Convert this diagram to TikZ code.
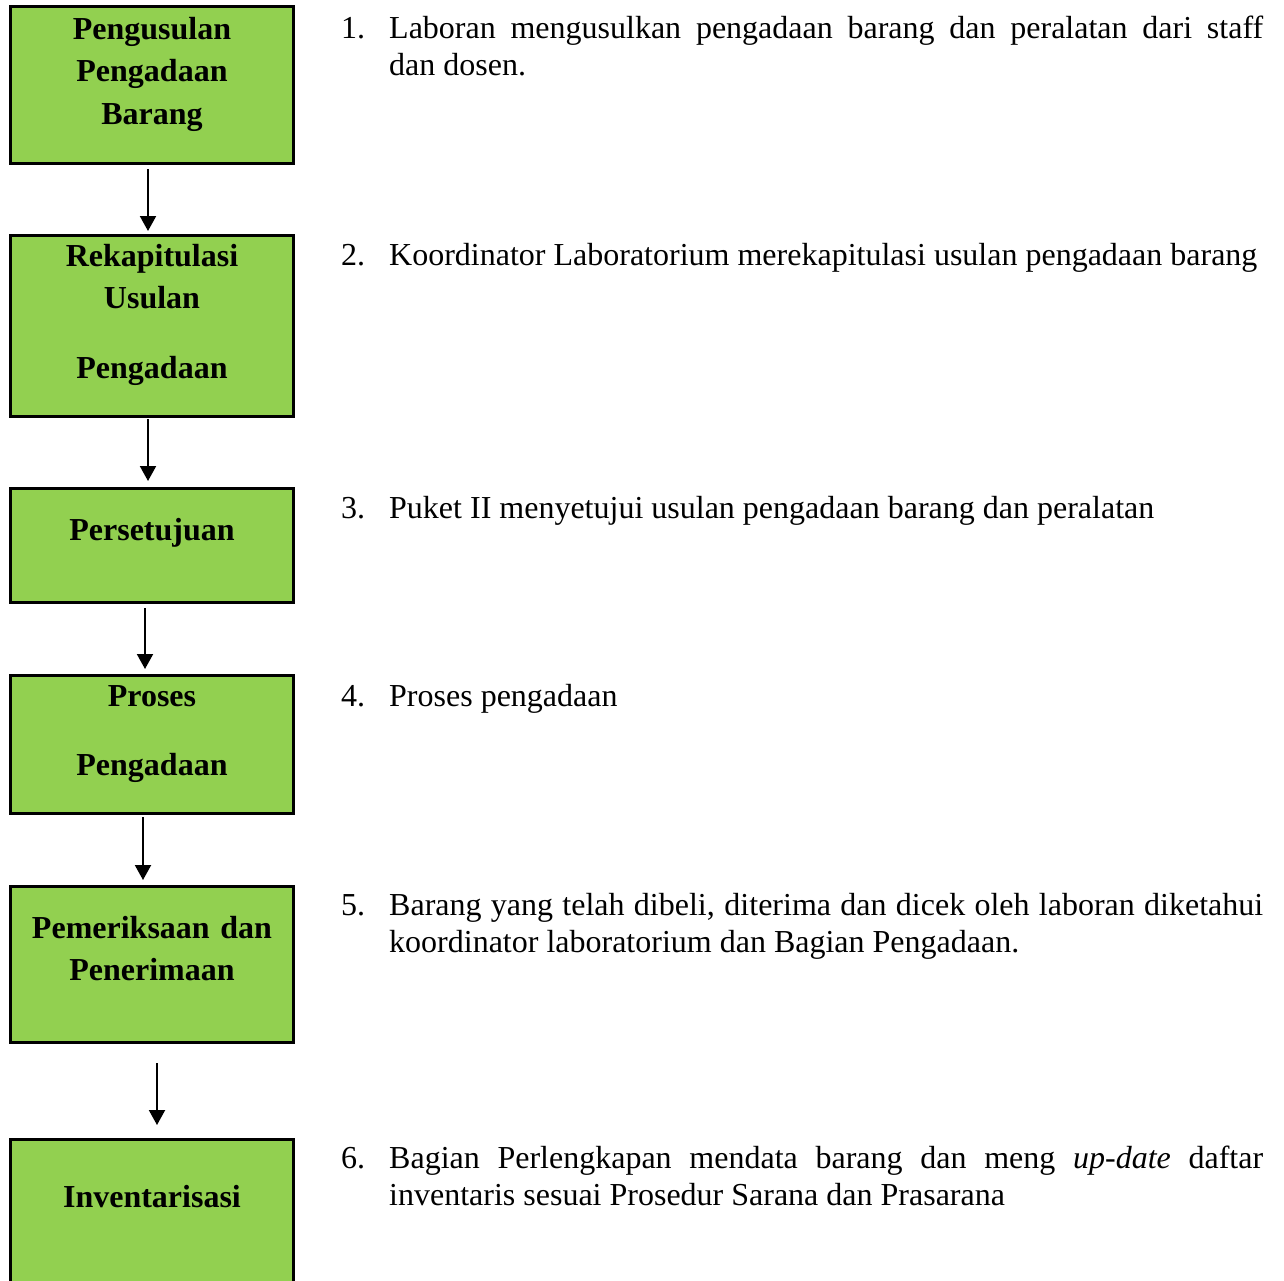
\documentclass[tikz,border=0pt]{standalone}
\usepackage{fontspec}
\setmainfont{Liberation Serif}
\usepackage{tikz}
\usetikzlibrary{arrows.meta}
\definecolor{boxgreen}{HTML}{92D050}
\hyphenpenalty=10000

\begin{document}
\begin{tikzpicture}[x=1pt,y=-1pt,
    stepbox/.style={draw,line width=3pt,fill=boxgreen,minimum width=283pt,
      inner sep=0pt,outer sep=0pt,anchor=north west},
    boxtext/.style={font=\fontsize{32}{42.5}\selectfont\bfseries,text width=283pt,
      align=center,anchor=base,inner sep=0pt},
    itemnum/.style={font=\fontsize{32}{37}\selectfont,anchor=base west,inner sep=0pt},
    itemtext/.style={font=\fontsize{32}{37}\selectfont,
      text width=874pt,align=justify,anchor=base west,inner sep=0pt},
    flow/.style={line width=2pt,-{Triangle[width=16pt,length=15pt]}}]
  \useasboundingbox (0,0) rectangle (1284,1280);
  \clip (0,0) rectangle (1284,1280);

  % the green steps
  \node[stepbox,minimum height=156.5pt] (b1) at (10.5,6.5) {};
  \node[stepbox,minimum height=181pt] (b2) at (10.5,235) {};
  \node[stepbox,minimum height=114pt] (b3) at (10.5,488) {};
  \node[stepbox,minimum height=138pt] (b4) at (10.5,675) {};
  \node[stepbox,minimum height=156pt] (b5) at (10.5,886) {};
  \node[stepbox,minimum height=200pt] (b6) at (10.5,1139) {};

  \node[boxtext] (t1) at (152,39) {Pengusulan\\Pengadaan\\Barang};
  \node[boxtext] (t2) at (152,266) {Rekapitulasi\\Usulan\\[27.5pt]Pengadaan};
  \node[boxtext] (t3) at (152,540) {Persetujuan};
  \node[boxtext] (t4) at (152,706) {Proses\\[26.5pt]Pengadaan};
  \node[boxtext] (t5) at (152,938) {Pemeriksaan dan\\Penerimaan};
  \node[boxtext] (t6) at (152,1207) {Inventarisasi};

  % arrows between the steps
  \draw[flow,shorten <=6pt,shorten >=4pt] ([xshift=-4pt]b1.south) -- ([xshift=-4pt]b2.north);
  \draw[flow,shorten <=3pt,shorten >=7pt] ([xshift=-4pt]b2.south) -- ([xshift=-4pt]b3.north);
  \draw[flow,shorten <=6pt,shorten >=6pt] ([xshift=-7pt]b3.south) -- ([xshift=-7pt]b4.north);
  \draw[flow,shorten <=4pt,shorten >=6pt] ([xshift=-9pt]b4.south) -- ([xshift=-9pt]b5.north);
  \draw[flow,shorten <=21pt,shorten >=14pt] ([xshift=5pt]b5.south) -- ([xshift=5pt]b6.north);

  % numbered descriptions
  \node[itemnum] (n1) at (341,38) {1.};
  \node[itemtext] (d1) at (389,38) {Laboran mengusulkan pengadaan barang dan peralatan dari staff\linebreak dan dosen.};
  \node[itemnum] (n2) at (341,265) {2.};
  \node[itemtext] (d2) at (389,265) {Koordinator Laboratorium merekapitulasi usulan pengadaan barang};
  \node[itemnum] (n3) at (341,518) {3.};
  \node[itemtext] (d3) at (389,518) {Puket II menyetujui usulan pengadaan barang dan peralatan};
  \node[itemnum] (n4) at (341,706) {4.};
  \node[itemtext] (d4) at (389,706) {Proses pengadaan};
  \node[itemnum] (n5) at (341,915) {5.};
  \node[itemtext] (d5) at (389,915) {Barang yang telah dibeli, diterima dan dicek oleh laboran diketahui koordinator laboratorium dan Bagian Pengadaan.};
  \node[itemnum] (n6) at (341,1168) {6.};
  \node[itemtext] (d6) at (389,1168) {Bagian Perlengkapan mendata barang dan meng \textit{up-date} daftar inventaris sesuai Prosedur Sarana dan Prasarana};
\end{tikzpicture}
\end{document}
